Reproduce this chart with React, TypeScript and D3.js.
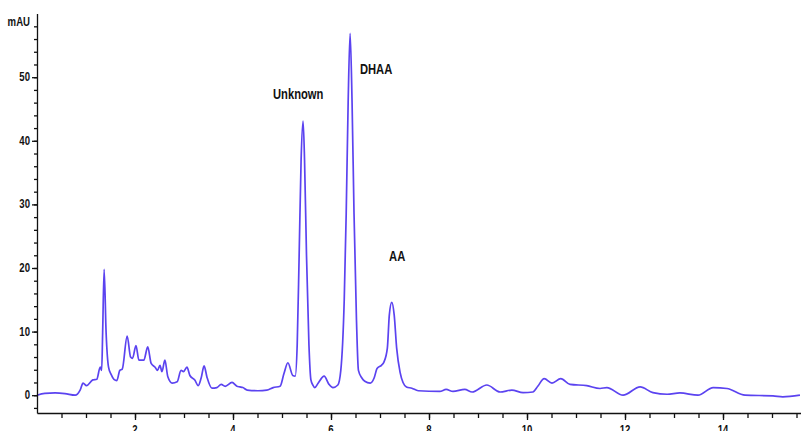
import React, { useEffect, useRef } from 'react';
import * as d3 from 'd3';

// retention time (min) and absorbance (mAU)
const times = [
  0.00, 0.16, 0.37, 0.57, 0.78, 0.88, 0.94, 1.01, 1.14, 1.22, 1.29, 1.32, 1.34, 1.37, 1.41, 1.46,
  1.51, 1.57, 1.63, 1.69, 1.74, 1.84, 1.91, 1.95, 2.02, 2.08, 2.18, 2.26, 2.33, 2.41, 2.46, 2.51,
  2.55, 2.61, 2.67, 2.76, 2.86, 2.94, 2.99, 3.06, 3.12, 3.22, 3.29, 3.35, 3.41, 3.47, 3.57, 3.67,
  3.76, 3.84, 3.98, 4.08, 4.14, 4.20, 4.29, 4.51, 4.69, 4.82, 4.96, 5.04, 5.12, 5.22, 5.27, 5.31,
  5.35, 5.39, 5.43, 5.46, 5.50, 5.55, 5.59, 5.63, 5.67, 5.73, 5.86, 5.96, 6.04, 6.14, 6.20, 6.27,
  6.31, 6.35, 6.39, 6.43, 6.47, 6.52, 6.56, 6.63, 6.69, 6.80, 6.88, 6.94, 7.03, 7.08, 7.15, 7.19,
  7.24, 7.29, 7.34, 7.41, 7.47, 7.54, 7.65, 7.78, 8.22, 8.35, 8.49, 8.73, 8.88, 9.18, 9.45, 9.69,
  9.92, 10.12, 10.22, 10.35, 10.51, 10.69, 10.88, 11.22, 11.49, 11.63, 11.96, 12.31, 12.57, 12.86,
  13.12, 13.49, 13.80, 14.08, 14.45, 15.02, 15.22, 15.57
];
const mAU = [
  0.0, 0.3, 0.35, 0.25, 0.0, 0.8, 1.9, 1.5, 2.4, 2.5, 4.4, 3.9, 9.9, 19.8, 9.9, 4.4,
  3.3, 2.5, 2.3, 3.9, 4.1, 9.3, 6.0, 5.8, 7.8, 5.5, 5.5, 7.6, 5.0, 4.4, 3.9, 4.7,
  3.7, 5.5, 2.9, 1.9, 2.1, 3.9, 3.7, 4.4, 3.1, 2.4, 1.5, 2.7, 4.6, 2.8, 1.1, 1.2,
  1.7, 1.4, 2.0, 1.4, 1.3, 1.2, 0.8, 0.7, 0.8, 1.2, 1.4, 3.4, 5.1, 3.1, 3.0, 7.9,
  22.0, 37.0, 43.1, 37.0, 22.0, 7.9, 2.4, 1.6, 1.2, 1.8, 3.0, 1.7, 1.2, 1.6, 3.9, 15.0,
  28.5, 46.0, 56.9, 46.0, 28.5, 11.8, 3.9, 2.7, 2.2, 1.9, 2.7, 4.2, 4.7, 5.2, 7.4, 12.6,
  14.6, 12.6, 7.4, 3.6, 2.0, 1.3, 1.1, 0.7, 0.6, 0.9, 0.6, 0.9, 0.5, 1.6, 0.5, 0.8,
  0.4, 0.5, 1.4, 2.6, 1.9, 2.6, 1.7, 1.5, 1.05, 1.2, 0.0, 1.3, 0.4, 0.15,
  0.35, 0.0, 1.2, 1.05, 0.0, -0.1, -0.25, 0.0
];

const yMajor = [0, 10, 20, 30, 40, 50];
const yMinor = d3.range(-2, 59, 2);
const xMajor = [2, 4, 6, 8, 10, 12, 14];
const xMinor = d3.range(0.5, 15.6, 0.5);

const peakNames = ['Unknown', 'DHAA', 'AA'];
const labelAt = [[5.33, 46.5], [6.92, 50.5], [7.35, 21.1]]; // label anchors in data units

const FONT = '"Liberation Sans", Arial, sans-serif';

// Arial Narrow look-alike: bold Liberation Sans squeezed horizontally
const narrowText = (parent, px, py, anchor, size, str) =>
  parent.append('text')
    .attr('transform', `translate(${px},${py}) scale(0.8,1)`)
    .attr('text-anchor', anchor)
    .attr('font-family', FONT)
    .attr('font-weight', 'bold')
    .attr('font-size', size)
    .attr('fill', '#111')
    .text(str);

const App = () => {
  const chartRef = useRef(null);

  useEffect(() => {
    const width = 801;
    const height = 431;
    const svg = d3.select(chartRef.current)
      .attr('width', width)
      .attr('height', height);
    svg.selectAll('*').remove();

    const x = d3.scaleLinear().domain([0, 15.6]).range([37, 801.4]);
    const y = d3.scaleLinear().domain([-2.8, 60]).range([413, 13.6]);

    // trace
    const line = d3.line()
      .x((d, i) => x(times[i]))
      .y(d => y(d))
      .curve(d3.curveMonotoneX);

    svg.append('path')
      .datum(mAU)
      .attr('d', line)
      .attr('fill', 'none')
      .attr('stroke', '#5b43f0')
      .attr('stroke-width', 1.7)
      .attr('stroke-linejoin', 'round');

    // y axis
    svg.append('g')
      .attr('transform', `translate(${x(0)},0)`)
      .call(d3.axisLeft(y).tickValues(yMinor).tickSize(3).tickSizeOuter(0).tickFormat(() => ''))
      .call(g => g.selectAll('line,path').attr('stroke', '#111').attr('stroke-width', 1.3));

    svg.append('g')
      .attr('transform', `translate(${x(0)},0)`)
      .call(d3.axisLeft(y).tickValues(yMajor).tickSize(5).tickSizeOuter(0).tickFormat(() => ''))
      .call(g => g.select('.domain').remove())
      .call(g => g.selectAll('line').attr('stroke', '#111').attr('stroke-width', 1.3));

    const yLabels = svg.append('g');
    yMajor.forEach(v => narrowText(yLabels, 30, y(v) + 4, 'end', 12, String(v)));
    narrowText(svg, 30, 26, 'end', 12, 'mAU');

    // x axis
    svg.append('g')
      .attr('transform', `translate(0,${y(-2.8)})`)
      .call(d3.axisBottom(x).tickValues(xMinor).tickSize(5).tickSizeOuter(0).tickFormat(() => ''))
      .call(g => g.selectAll('line,path').attr('stroke', '#111').attr('stroke-width', 1.3));

    svg.append('g')
      .attr('transform', `translate(0,${y(-2.8)})`)
      .call(d3.axisBottom(x).tickValues(xMajor).tickSize(7).tickSizeOuter(0).tickFormat(() => ''))
      .call(g => g.select('.domain').remove())
      .call(g => g.selectAll('line').attr('stroke', '#111').attr('stroke-width', 1.3));

    const xLabels = svg.append('g');
    xMajor.forEach(v => narrowText(xLabels, x(v), 434, 'middle', 12, String(v)));

    // peak labels
    peakNames.forEach((name, i) =>
      narrowText(svg, x(labelAt[i][0]), y(labelAt[i][1]), 'middle', 14, name));
  }, []);

  return (
    <div style={{ position: 'fixed', left: 0, top: 0, background: '#fff' }}>
      <svg ref={chartRef} style={{ display: 'block' }}></svg>
    </div>
  );
};

export default App;
